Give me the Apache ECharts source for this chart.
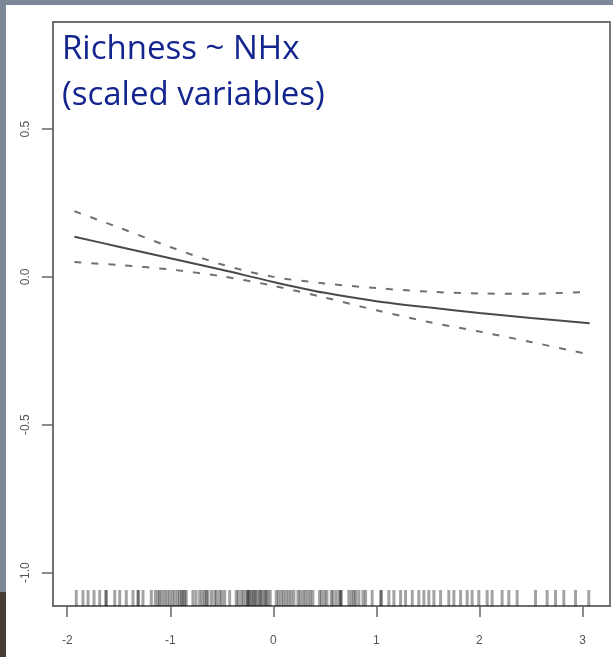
<!DOCTYPE html>
<html>
<head>
<meta charset="utf-8">
<script src="https://cdn.jsdelivr.net/npm/echarts@6.0.0/dist/echarts.min.js"></script>
<style>
  html, body { margin: 0; padding: 0; width: 613px; height: 657px; overflow: hidden; background: #ffffff; }
  #topband { position: absolute; left: 0; top: 0; width: 613px; height: 5px; background: #7c8797; }
  #leftband { position: absolute; left: 0; top: 0; width: 6px; height: 592px; background: #7c8797; }
  #leftbrown { position: absolute; left: 0; top: 592px; width: 6px; height: 65px; background: #473c36; }
  #chart { position: absolute; left: 0; top: 0; width: 613px; height: 657px; }
</style>
</head>
<body>
<div id="topband"></div>
<div id="leftband"></div>
<div id="leftbrown"></div>
<div id="chart"></div>
<script>
// ---- data ----
const titleLines = ["Richness ~ NHx", "(scaled variables)"];
const xTicks = [-2, -1, 0, 1, 2, 3];
const yTicks = [-1.0, -0.5, 0.0, 0.5];
const xRange = [-2.138, 3.267];
const yRange = [-1.113, 0.862];

const xGrid = [-1.93, -1.5, -1.0, -0.5, 0.0, 0.5, 1.0, 1.5, 2.0, 2.5, 3.07];
const fitValues = [0.136, 0.102, 0.063, 0.024, -0.017, -0.054, -0.082, -0.103, -0.122, -0.139, -0.157];
const upperValues = [0.222, 0.167, 0.101, 0.042, 0.000, -0.022, -0.038, -0.050, -0.056, -0.057, -0.050];
const lowerValues = [0.050, 0.040, 0.025, 0.002, -0.030, -0.070, -0.113, -0.152, -0.185, -0.220, -0.263];

const rugValues = [
  -1.912, -1.847, -1.798, -1.740, -1.685, -1.625, -1.621, -1.539, -1.491, -1.427, -1.362, -1.313, -1.310, -1.265,
  -1.184, -1.145, -1.120, -1.103, -1.080, -1.054, -1.030, -1.006, -0.980, -0.957, -0.930, -0.909, -0.890, -0.877, -0.860, -0.845,
  -0.780, -0.750, -0.715, -0.690, -0.666, -0.650, -0.634, -0.600, -0.569, -0.550, -0.521, -0.500, -0.472, -0.424,
  -0.360, -0.340, -0.311, -0.290, -0.263, -0.250, -0.240, -0.230, -0.210, -0.198, -0.180, -0.170, -0.149, -0.130, -0.120, -0.101, -0.080, -0.070, -0.052, -0.030,
  0.028, 0.050, 0.077, 0.100, 0.125, 0.150, 0.174, 0.200, 0.239, 0.260, 0.287, 0.310, 0.336, 0.360, 0.384, 0.449, 0.470, 0.498, 0.520, 0.562, 0.580, 0.610,
  0.640, 0.653, 0.660, 0.733, 0.760, 0.782, 0.800, 0.830, 0.870, 0.895, 0.959,
  1.041, 1.050, 1.121, 1.170, 1.235, 1.283, 1.348, 1.412, 1.461, 1.509, 1.558, 1.623, 1.703, 1.752, 1.817, 1.881, 1.929, 1.994,
  2.075, 2.123, 2.220, 2.285, 2.366, 2.544, 2.657, 2.738, 2.819, 2.932, 3.061
];

// ---- build ----
const zip = (xs, ys) => xs.map((x, i) => [x, ys[i]]);
const chart = echarts.init(document.getElementById('chart'), null, { renderer: 'canvas' });

const axisColor = '#666666';
const labelColor = '#555555';

chart.setOption({
  animation: false,
  backgroundColor: 'transparent',
  title: {
    text: titleLines.join('\n'),
    left: 57,
    top: 22,
    textStyle: {
      color: '#14258f',
      fontFamily: 'Open Sans',
      fontSize: 33,
      fontWeight: 'normal',
      lineHeight: 46
    }
  },
  grid: {
    left: 53, top: 22, right: 3, bottom: 51,
    show: true,
    borderColor: '#6e6e6e',
    borderWidth: 1.8,
    backgroundColor: 'transparent'
  },
  xAxis: {
    type: 'value',
    min: xRange[0], max: xRange[1],
    splitLine: { show: false },
    axisLine: { show: true, onZero: false, lineStyle: { color: '#6e6e6e', width: 1.8 } },
    axisTick: { show: true, customValues: xTicks, length: 11, lineStyle: { color: axisColor, width: 1.5 } },
    axisLabel: {
      show: true, customValues: xTicks, margin: 29,
      color: labelColor, fontFamily: 'Liberation Sans', fontSize: 12,
      formatter: v => String(Math.round(v))
    }
  },
  yAxis: {
    type: 'value',
    min: yRange[0], max: yRange[1],
    splitLine: { show: false },
    axisLine: { show: true, onZero: false, lineStyle: { color: '#6e6e6e', width: 1.8 } },
    axisTick: { show: true, customValues: yTicks, length: 11, lineStyle: { color: axisColor, width: 1.5 } },
    axisLabel: {
      show: true, customValues: yTicks, margin: 21, rotate: 90,
      color: labelColor, fontFamily: 'Liberation Sans', fontSize: 12,
      formatter: v => Number(v).toFixed(1)
    }
  },
  series: [
    {
      type: 'line', data: zip(xGrid, fitValues), showSymbol: false, smooth: 0.3,
      lineStyle: { color: '#4a4a4a', width: 2 }, silent: true
    },
    {
      type: 'line', data: zip(xGrid, upperValues), showSymbol: false, smooth: 0.3,
      lineStyle: { color: '#707070', width: 2, type: [7, 10] }, silent: true
    },
    {
      type: 'line', data: zip(xGrid, lowerValues), showSymbol: false, smooth: 0.3,
      lineStyle: { color: '#707070', width: 2, type: [7, 10] }, silent: true
    },
    {
      type: 'scatter',
      data: rugValues.map(x => [x, yRange[0]]),
      symbol: 'rect', symbolSize: [3, 16], symbolOffset: [0, -8],
      itemStyle: { color: 'rgba(0,0,0,0.45)' },
      silent: true
    }
  ]
});
</script>
</body>
</html>
